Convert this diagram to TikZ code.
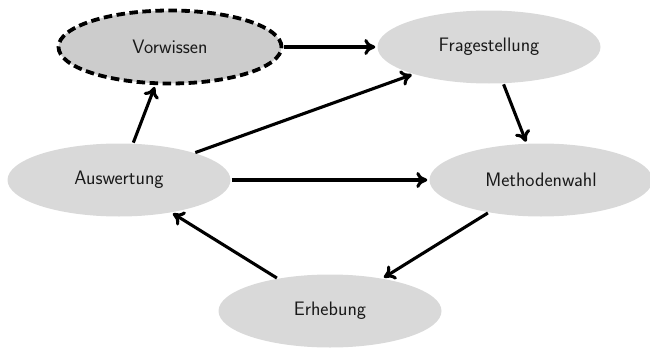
\documentclass[tikz,border=0pt]{standalone}
\usepackage{fontspec}
\usetikzlibrary{arrows.meta,shapes.geometric}
\begin{document}
\begin{tikzpicture}[x=1pt,y=-1pt,
  phase/.style={ellipse,fill=black!15,minimum width=223pt,minimum height=73pt,
    inner sep=0pt,text=black!90,font=\sffamily\fontsize{19.5}{23}\selectfont},
  start/.style={phase,fill=black!20,draw=black,line width=3.8pt,
    dash pattern=on 8.5pt off 4.5pt},
  flow/.style={line width=3.1pt,-{To[length=11pt,width=16pt]},shorten >=2pt,shorten <=1pt}]
  \useasboundingbox (0,0) rectangle (650,348);
  \node[start] (vor) at (170,47) {Vorwissen};
  \node[phase] (frage) at (489,47) {Fragestellung};
  \node[phase] (ausw) at (119,180) {Auswertung};
  \node[phase] (meth) at (541,180) {Methodenwahl};
  \node[phase] (erh) at (330,311) {Erhebung};
  \draw[flow] (vor) -- (frage);
  \draw[flow] (frage) -- (meth);
  \draw[flow] (meth) -- (erh);
  \draw[flow] (erh) -- (ausw);
  \draw[flow] (ausw) -- (vor);
  \draw[flow] (ausw) -- (frage);
  \draw[flow] (ausw) -- (meth);
\end{tikzpicture}
\end{document}
